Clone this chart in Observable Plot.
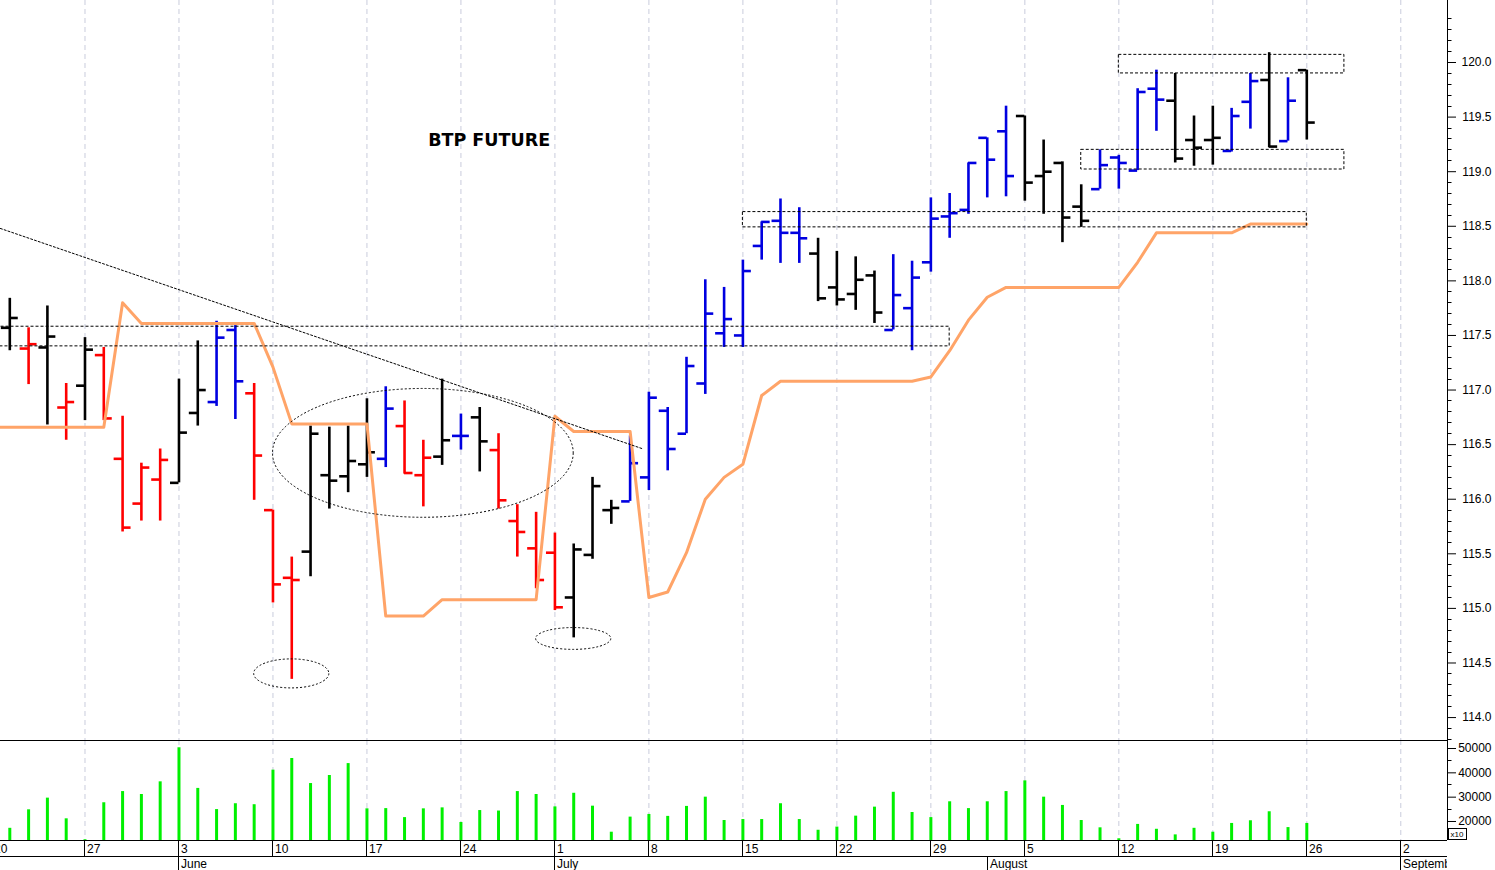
<!DOCTYPE html>
<html><head><meta charset="utf-8">
<script src="https://cdn.jsdelivr.net/npm/d3@7"></script>
<script src="https://cdn.jsdelivr.net/npm/@observablehq/plot@0.6"></script>
<style>
html,body{margin:0;padding:0;background:#fff;}
#chart svg{display:block;}
</style></head><body><div id="chart"></div>
<script>
// trading-day index, 0 = Monday 27 May
const days = [-4,-3,-2,-1,0,1,2,3,4,5,6,7,8,9,10,11,12,13,14,15,16,17,18,19,20,21,22,23,24,25,26,27,28,29,30,31,32,33,34,35,36,37,38,39,40,41,42,43,44,45,46,47,48,49,50,51,52,53,54,55,56,57,58,59,60,61,62,63,64,65];
const opens = [117.57,117.38,117.39,116.84,117.04,117.32,116.37,115.96,116.18,116.15,116.79,116.89,117.55,116.97,115.90,115.28,115.52,116.22,116.21,116.32,116.37,116.67,116.22,116.39,116.58,116.75,116.45,115.80,115.55,115.51,115.10,115.49,115.90,115.98,116.20,116.81,116.60,117.06,117.52,117.50,118.32,118.55,118.44,118.25,117.94,117.88,118.05,117.55,117.75,118.17,118.59,118.65,119.31,119.37,119.51,118.96,119.08,118.68,118.84,119.13,119.01,119.76,119.65,119.29,119.29,119.19,119.64,119.84,119.28,119.93];
const highs = [117.84,117.57,117.77,117.06,117.48,117.39,116.76,116.33,116.46,117.10,117.45,117.63,117.59,117.06,115.90,115.47,116.67,116.66,116.67,116.92,117.03,116.90,116.54,117.10,116.78,116.84,116.60,115.95,115.88,115.69,115.59,116.20,115.99,116.58,116.98,116.84,117.30,118.01,117.94,118.19,118.54,118.75,118.67,118.39,118.27,118.22,118.09,118.24,118.18,118.76,118.80,119.08,119.31,119.60,119.51,119.29,119.09,118.88,119.20,119.15,119.76,119.93,119.90,119.51,119.60,119.58,119.90,120.09,119.86,119.93];
const lows = [117.36,117.05,116.68,116.54,116.72,116.72,115.70,115.80,115.80,116.15,116.67,116.85,116.73,115.99,115.05,114.35,115.29,115.91,116.06,116.20,116.29,116.23,115.93,116.31,116.45,116.25,115.91,115.47,115.18,114.98,114.73,115.45,115.77,115.98,116.08,116.26,116.60,116.96,117.39,117.39,118.19,118.16,118.16,117.81,117.77,117.73,117.61,117.55,117.36,118.08,118.39,118.61,118.76,118.77,118.73,118.61,118.35,118.49,118.84,118.84,119.01,119.37,119.08,119.05,119.06,119.18,119.39,119.22,119.28,119.29];
const closes = [117.66,117.42,117.49,116.89,117.37,116.74,115.74,116.29,116.36,116.61,117.00,117.48,117.08,116.40,115.22,115.26,116.60,116.17,116.35,116.43,116.83,116.24,116.38,116.54,116.58,116.53,115.99,115.70,115.26,115.01,115.54,116.12,115.92,116.33,116.93,116.46,117.22,117.70,117.65,118.09,118.54,118.44,118.39,117.84,117.83,118.01,117.71,117.87,118.03,118.57,118.62,119.08,119.11,118.96,118.90,119.00,118.58,118.55,119.06,119.08,119.73,119.66,119.12,119.22,119.31,119.51,119.83,119.23,119.65,119.45];
// bar colour class: k = neutral (black), r = down (red), b = up (blue)
const barClass = ["k","r","k","r","k","r","r","r","r","k","k","b","b","r","r","r","k","k","k","k","b","r","r","k","b","k","r","r","r","r","k","k","k","b","b","b","b","b","b","b","b","b","b","k","k","k","k","b","b","b","b","b","b","b","k","k","k","k","b","b","b","b","k","k","k","b","b","k","b","k"];
const volumes = [17200,24800,29600,21100,12500,27700,32300,31100,36300,50300,33600,24900,27300,26900,41100,45900,35600,38900,43800,25200,25300,21600,25200,25600,19600,24500,24300,32300,31100,26000,31600,26300,15600,21800,22900,22100,26200,30000,20400,20800,20800,27300,20800,16400,17700,22200,25900,32000,23700,21600,28100,25300,28100,32300,36700,30000,26600,20400,17400,12900,18800,16800,14500,17200,15600,19200,20300,24000,17500,19200];

// trailing stop line (orange), index -5 .. 65
const stopDays = [-5,-4,-3,-2,-1,0,1,2,3,4,5,6,7,8,9,10,11,12,13,14,15,16,17,18,19,20,21,22,23,24,25,26,27,28,29,30,31,32,33,34,35,36,37,38,39,40,41,42,43,44,45,46,47,48,49,50,51,52,53,54,55,56,57,58,59,60,61,62,63,64,65];
const stopValues = [116.66,116.66,116.66,116.66,116.66,116.66,116.66,117.80,117.61,117.61,117.61,117.61,117.61,117.61,117.61,117.21,116.69,116.69,116.69,116.69,116.69,114.93,114.93,114.93,115.08,115.08,115.08,115.08,115.08,115.08,116.76,116.62,116.62,116.62,116.62,115.10,115.15,115.51,116.00,116.20,116.32,116.95,117.08,117.08,117.08,117.08,117.08,117.08,117.08,117.08,117.12,117.36,117.64,117.85,117.94,117.94,117.94,117.94,117.94,117.94,117.94,118.17,118.44,118.44,118.44,118.44,118.44,118.52,118.52,118.52,118.52];

// annotations
const boxX1 = [-5, 35, 53, 55];
const boxX2 = [46, 65, 67, 67];
const boxLow = [117.40, 118.49, 119.02, 119.90];
const boxHigh = [117.58, 118.63, 119.20, 120.07];
const trendDays = [-4.5, 29.7];
const trendValues = [118.48, 116.46];
const ellipseDay = [18, 11, 26];
const ellipsePrice = [116.42, 114.40, 114.72];
const ellipseDayRadius = [8, 2, 2];
const ellipsePriceRadius = [0.59, 0.133, 0.10];
const titleText = "BTP FUTURE";

// axes
const priceTicks = [114.0,114.5,115.0,115.5,116.0,116.5,117.0,117.5,118.0,118.5,119.0,119.5,120.0];
const volumeTicks = [20000,30000,40000,50000];
const volumeMinorTicks = [15000,25000,35000,45000];
const weekDays = [-5,0,5,10,15,20,25,30,35,40,45,50,55,60,65,70];
const weekLabels = ["20","27","3","10","17","24","1","8","15","22","29","5","12","19","26","2"];
const monthDays = [5,25,48,70];
const monthLabels = ["June","July","August","September"];

const FONT = "'Liberation Sans', Arial, sans-serif";
const xDomain = [-4.495, 72.485];
const colorScale = {domain: ["k","r","b"], range: ["#000000","#ff0000","#0000e0"]};

const bars = days.map((d, k) => ({i: d, o: opens[k], h: highs[k], l: lows[k], c: closes[k], cls: barClass[k]}));
const vol = days.map((d, k) => ({i: d, v: volumes[k]}));
const stop = stopDays.map((d, k) => ({i: d, p: stopValues[k]}));
const boxes = boxX1.map((x, k) => ({x1: x, x2: boxX2[k], y1: boxLow[k], y2: boxHigh[k]}));
const trend = trendDays.map((d, k) => ({i: d, p: trendValues[k]}));
const ellipses = ellipseDay.map((d, k) => ({cx: d, cy: ellipsePrice[k], rx: ellipseDayRadius[k], ry: ellipsePriceRadius[k]}));
const priceMinor = d3.range(113.8, 120.55, 0.1).map(v => Math.round(v * 10) / 10).filter(v => Math.round(v * 10) % 5 !== 0);

// right-hand axis line plus short minor ticks, placed through the y scale
function rightLine(minor) {
  return function(index, scales, values, dims) {
    const x = dims.width - dims.marginRight + 0.5;
    const g = d3.create("svg:g").attr("stroke", "#000");
    g.append("line").attr("x1", x).attr("x2", x).attr("y1", dims.marginTop).attr("y2", dims.height - dims.marginBottom);
    for (const t of minor) {
      const y = Math.round(scales.y(t)) + 0.5;
      if (y < dims.marginTop || y > dims.height - dims.marginBottom) continue;
      g.append("line").attr("x1", x).attr("x2", x + 4).attr("y1", y).attr("y2", y);
    }
    return g.node();
  };
}

function ellipseMark(index, scales) {
  const g = d3.create("svg:g").attr("fill", "none").attr("stroke", "#000").attr("stroke-dasharray", "2,2");
  for (const e of ellipses) {
    const cx = scales.x(e.cx), cy = scales.y(e.cy);
    g.append("ellipse").attr("cx", cx).attr("cy", cy)
      .attr("rx", Math.abs(scales.x(e.cx + e.rx) - cx))
      .attr("ry", Math.abs(scales.y(e.cy + e.ry) - cy));
  }
  return g.node();
}

const pricePlot = Plot.plot({
  width: 1495, height: 740,
  marginLeft: 0, marginRight: 48, marginTop: 0, marginBottom: 0,
  x: {domain: xDomain, axis: null, label: null},
  y: {domain: [113.79, 120.568], label: null},
  color: colorScale,
  style: {fontFamily: FONT, fontSize: "12px", background: "#fff", color: "#000"},
  marks: [
    Plot.ruleX(weekDays, {x: d => d, stroke: "#c9ccdc", strokeDasharray: "5,4", clip: true}),
    Plot.ruleX(bars, {x: "i", y1: "l", y2: "h", stroke: "cls", strokeWidth: 2.6}),
    Plot.ruleY(bars, {y: "o", x1: d => d.i - 0.45, x2: "i", stroke: "cls", strokeWidth: 2.6}),
    Plot.ruleY(bars, {y: "c", x1: "i", x2: d => d.i + 0.45, stroke: "cls", strokeWidth: 2.6}),
    Plot.line(stop, {x: "i", y: "p", stroke: "#ffa468", strokeWidth: 3, clip: true}),
    Plot.rect(boxes, {x1: "x1", x2: "x2", y1: "y1", y2: "y2", fill: "none", stroke: "#000", strokeWidth: 1, strokeDasharray: "3,2", clip: true}),
    Plot.line(trend, {x: "i", y: "p", stroke: "#000", strokeWidth: 1, strokeDasharray: "2,2", clip: true}),
    ellipseMark,
    Plot.text([titleText], {x: 21.5, y: 119.29, text: d => d, fontFamily: "'DejaVu Sans', Verdana, sans-serif", fontSize: 17.5, fontWeight: "bold", fill: "#000"}),
    Plot.axisY(priceTicks, {anchor: "right", label: null, tickSize: 8, tickPadding: 36, textAnchor: "end", tickFormat: d3.format(".1f"), fontSize: 12}),
    rightLine(priceMinor)
  ]
});

function dateAxis(index, scales, values, dims) {
  const x1 = dims.width - dims.marginRight;
  const yb = dims.height - dims.marginBottom;
  const g = d3.create("svg:g").attr("font-family", FONT).attr("font-size", 12).attr("fill", "#000").attr("text-anchor", "start");
  const clipId = "dateclip";
  g.append("clipPath").attr("id", clipId).append("rect").attr("x", 0).attr("y", 0).attr("width", x1).attr("height", dims.height);
  const c = g.append("g").attr("clip-path", `url(#${clipId})`);
  c.append("line").attr("x1", 0).attr("x2", x1).attr("y1", 0.5).attr("y2", 0.5).attr("stroke", "#000");
  c.append("line").attr("x1", 0).attr("x2", x1).attr("y1", yb + 0.5).attr("y2", yb + 0.5).attr("stroke", "#000");
  c.append("line").attr("x1", 0).attr("x2", x1).attr("y1", yb + 16.5).attr("y2", yb + 16.5).attr("stroke", "#000");
  weekDays.forEach((d, k) => {
    const x = Math.round(scales.x(d)) + 0.5;
    c.append("line").attr("x1", x).attr("x2", x).attr("y1", yb).attr("y2", yb + 16).attr("stroke", "#000");
    c.append("text").attr("x", x + 2.5).attr("y", yb + 8.5).attr("dy", "0.36em").text(weekLabels[k]);
  });
  monthDays.forEach((d, k) => {
    const x = Math.round(scales.x(d)) + 0.5;
    c.append("line").attr("x1", x).attr("x2", x).attr("y1", yb + 16).attr("y2", dims.height).attr("stroke", "#000");
    c.append("text").attr("x", x + 2.5).attr("y", yb + 24).attr("dy", "0.36em").text(monthLabels[k]);
  });
  g.append("rect").attr("x", x1 + 1.5).attr("y", yb - 11.5).attr("width", 18).attr("height", 11).attr("fill", "#fff").attr("stroke", "#000");
  g.append("text").attr("x", x1 + 3.5).attr("y", yb - 3).attr("font-size", 8).text("x10");
  return g.node();
}

const volPlot = Plot.plot({
  width: 1495, height: 130,
  marginLeft: 0, marginRight: 48, marginTop: 0, marginBottom: 30,
  x: {domain: xDomain, axis: null, label: null},
  y: {domain: [12188, 53288], label: null},
  style: {fontFamily: FONT, fontSize: "12px", background: "#fff", color: "#000"},
  marks: [
    Plot.ruleX(weekDays, {x: d => d, stroke: "#c9ccdc", strokeDasharray: "5,4", clip: true}),
    Plot.ruleX(vol, {x: "i", y1: 0, y2: "v", stroke: "#00f000", strokeWidth: 3, clip: true}),
    Plot.axisY(volumeTicks, {anchor: "right", label: null, tickSize: 8, tickPadding: 36, textAnchor: "end", tickFormat: d3.format("d"), fontSize: 12}),
    rightLine(volumeMinorTicks),
    dateAxis
  ]
});

document.getElementById("chart").append(pricePlot, volPlot);
</script>
</body></html>
